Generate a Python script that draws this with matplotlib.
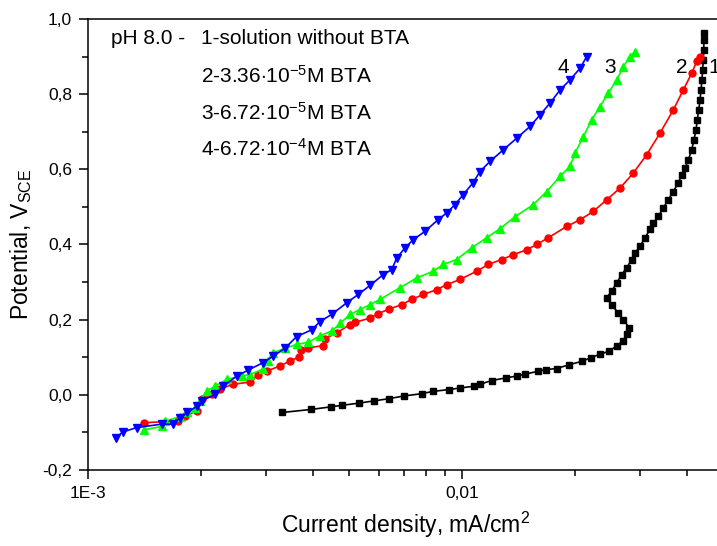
import matplotlib
matplotlib.use("Agg")
import matplotlib.pyplot as plt
from matplotlib.ticker import FixedLocator, FixedFormatter, LogLocator, NullFormatter, MultipleLocator, FuncFormatter

plt.rcParams['font.family'] = 'Liberation Sans'
plt.rcParams['mathtext.fontset'] = 'custom'
plt.rcParams['mathtext.rm'] = 'Liberation Sans'
plt.rcParams['mathtext.it'] = 'Liberation Sans:italic'

# 1 - solution without BTA
x1 = [3.30e-3, 3.94e-3, 4.46e-3, 4.77e-3, 5.31e-3, 5.83e-3, 6.39e-3, 7.00e-3, 7.80e-3, 8.35e-3,
      9.23e-3, 9.86e-3, 10.79e-3, 11.17e-3, 12.0e-3, 13.09e-3, 14.01e-3, 14.77e-3, 16.0e-3, 16.77e-3,
      17.91e-3, 19.32e-3, 20.9e-3, 22.13e-3, 23.39e-3, 24.72e-3, 25.92e-3, 26.9e-3, 27.57e-3, 28.02e-3,
      27.0e-3, 26.13e-3, 25.18e-3, 24.37e-3, 25.13e-3, 25.92e-3, 26.73e-3, 27.57e-3, 28.43e-3, 29.02e-3,
      29.92e-3, 30.85e-3, 31.82e-3, 32.47e-3, 33.48e-3, 34.53e-3, 35.61e-3, 36.73e-3, 37.87e-3, 38.67e-3,
      39.47e-3, 40.28e-3, 41.14e-3, 41.72e-3, 42.24e-3, 42.58e-3, 42.95e-3, 43.30e-3, 43.55e-3, 43.82e-3,
      44.00e-3, 44.18e-3, 44.29e-3, 44.37e-3, 44.46e-3]
y1 = [-0.047, -0.039, -0.032, -0.028, -0.022, -0.016, -0.010, -0.003, 0.003, 0.009,
      0.014, 0.018, 0.023, 0.028, 0.038, 0.045, 0.050, 0.055, 0.063, 0.067,
      0.070, 0.080, 0.089, 0.099, 0.108, 0.116, 0.130, 0.143, 0.161, 0.178,
      0.200, 0.219, 0.238, 0.258, 0.276, 0.298, 0.320, 0.338, 0.360, 0.378,
      0.395, 0.418, 0.440, 0.457, 0.475, 0.497, 0.519, 0.541, 0.564, 0.586,
      0.603, 0.625, 0.652, 0.679, 0.705, 0.732, 0.758, 0.785, 0.811, 0.838,
      0.865, 0.891, 0.918, 0.944, 0.962]

# 2 - 3.36e-5 M BTA
x2 = [1.414e-3, 1.743e-3, 1.817e-3, 1.952e-3, 2.014e-3, 2.142e-3, 2.254e-3, 2.437e-3, 2.712e-3, 2.843e-3,
      3.005e-3, 3.262e-3, 3.468e-3, 3.673e-3, 3.700e-3, 3.882e-3, 4.257e-3, 4.302e-3, 4.624e-3, 5.019e-3,
      5.176e-3, 5.675e-3, 5.962e-3, 6.38e-3, 6.90e-3, 7.34e-3, 7.88e-3, 8.56e-3, 9.10e-3, 9.88e-3,
      10.95e-3, 11.76e-3, 12.77e-3, 13.72e-3, 14.89e-3, 15.84e-3, 17.01e-3, 19.05e-3, 20.69e-3, 22.44e-3,
      24.37e-3, 26.45e-3, 28.71e-3, 31.18e-3, 33.83e-3, 36.73e-3, 39.06e-3, 41.14e-3, 42.42e-3, 43.30e-3]
y2 = [-0.074, -0.070, -0.056, -0.043, -0.012, 0.001, 0.015, 0.028, 0.034, 0.053,
      0.063, 0.077, 0.090, 0.101, 0.118, 0.125, 0.131, 0.149, 0.165, 0.187,
      0.193, 0.204, 0.216, 0.228, 0.240, 0.254, 0.267, 0.280, 0.293, 0.307,
      0.329, 0.347, 0.360, 0.373, 0.386, 0.400, 0.418, 0.448, 0.466, 0.488,
      0.519, 0.550, 0.590, 0.639, 0.696, 0.758, 0.811, 0.856, 0.887, 0.900]

# 3 - 6.72e-5 M BTA
x3 = [1.414e-3, 1.574e-3, 1.607e-3, 1.762e-3, 1.843e-3, 1.932e-3, 1.993e-3, 2.077e-3, 2.186e-3, 2.349e-3,
      2.576e-3, 2.712e-3, 2.931e-3, 3.029e-3, 3.130e-3, 3.363e-3, 3.614e-3, 3.882e-3, 4.172e-3, 4.491e-3,
      4.718e-3, 5.019e-3, 5.337e-3, 5.675e-3, 6.036e-3, 6.826e-3, 7.566e-3, 8.382e-3, 8.913e-3, 9.678e-3,
      10.61e-3, 11.64e-3, 12.64e-3, 13.86e-3, 15.51e-3, 16.85e-3, 18.28e-3, 19.45e-3, 20.05e-3, 21.11e-3,
      22.23e-3, 23.39e-3, 24.61e-3, 25.92e-3, 27.0e-3, 28.13e-3, 29.02e-3]
y3 = [-0.093, -0.084, -0.070, -0.058, -0.047, -0.034, -0.016, 0.010, 0.023, 0.041,
      0.050, 0.054, 0.068, 0.089, 0.112, 0.124, 0.134, 0.140, 0.157, 0.170,
      0.190, 0.214, 0.227, 0.240, 0.254, 0.285, 0.311, 0.329, 0.347, 0.360,
      0.391, 0.418, 0.442, 0.474, 0.506, 0.541, 0.581, 0.608, 0.643, 0.687,
      0.732, 0.767, 0.803, 0.838, 0.873, 0.900, 0.913]

# 4 - 6.72e-4 M BTA
x4 = [1.188e-3, 1.238e-3, 1.350e-3, 1.574e-3, 1.691e-3, 1.762e-3, 1.843e-3, 1.952e-3, 2.014e-3, 2.186e-3,
      2.300e-3, 2.498e-3, 2.683e-3, 2.942e-3, 3.130e-3, 3.363e-3, 3.614e-3, 3.964e-3, 4.172e-3, 4.483e-3,
      4.918e-3, 5.281e-3, 5.675e-3, 6.161e-3, 6.487e-3, 6.690e-3, 7.041e-3, 7.410e-3, 7.963e-3, 8.628e-3,
      9.100e-3, 9.579e-3, 10.08e-3, 10.70e-3, 11.17e-3, 11.88e-3, 12.90e-3, 14.01e-3, 15.20e-3, 16.17e-3,
      17.19e-3, 18.28e-3, 19.45e-3, 20.69e-3, 21.55e-3]
y4 = [-0.114, -0.099, -0.087, -0.078, -0.078, -0.061, -0.047, -0.031, -0.016, 0.001,
      0.023, 0.050, 0.066, 0.086, 0.103, 0.124, 0.155, 0.173, 0.195, 0.214,
      0.245, 0.267, 0.291, 0.320, 0.333, 0.364, 0.391, 0.413, 0.435, 0.466,
      0.484, 0.506, 0.533, 0.564, 0.594, 0.621, 0.652, 0.683, 0.714, 0.745,
      0.776, 0.811, 0.838, 0.869, 0.900]

# curve numbers placed near the top ends
curve_labels = ['4', '3', '2', '1']
label_x = [0.01862, 0.02487, 0.03873, 0.0472]
label_y = [0.87, 0.87, 0.87, 0.87]

legend_head = 'pH 8.0 -'
legend_lines = ['1-solution without BTA',
                r'2-3.36$\cdot$10$^{-5}$M BTA',
                r'3-6.72$\cdot$10$^{-5}$M BTA',
                r'4-6.72$\cdot$10$^{-4}$M BTA']

fig = plt.figure(figsize=(7.17, 5.46), dpi=100)
# axes runs a bit past the right edge (cropped like the original)
ax = fig.add_axes([88 / 717, 76 / 546, 635.4 / 717, 451 / 546])

ax.plot(x1, y1, color='black', marker='s', markersize=4.5, linewidth=1.2)
ax.plot(x2, y2, color='#ff0000', marker='o', markersize=5, linewidth=1.2)
ax.plot(x3, y3, color='#00ff00', marker='^', markersize=6, linewidth=1.2)
ax.plot(x4, y4, color='#0000ff', marker='v', markersize=6, linewidth=1.2)

ax.set_xscale('log')
ax.set_xlim(1e-3, 0.05)
ax.set_ylim(-0.2, 1.0)

ax.xaxis.set_major_locator(FixedLocator([1e-3, 1e-2]))
ax.xaxis.set_major_formatter(FixedFormatter(['1E-3', '0,01']))
ax.xaxis.set_minor_locator(LogLocator(base=10, subs=range(2, 10)))
ax.xaxis.set_minor_formatter(NullFormatter())

ax.yaxis.set_major_locator(MultipleLocator(0.2))
ax.yaxis.set_minor_locator(MultipleLocator(0.1))
ax.yaxis.set_major_formatter(FuncFormatter(lambda v, p: f"{v:.1f}".replace('.', ',').replace('-0,0', '0,0')))

ax.tick_params(which='both', direction='out', top=False, right=False, width=1.1, labelsize=12.5)
ax.tick_params(which='major', length=6.5, pad=5)
ax.tick_params(which='minor', length=4)
for s in ax.spines.values():
    s.set_linewidth(1.1)

ax.set_xlabel('Current density, mA/cm$^2$', fontsize=16.5, labelpad=6)
ax.set_ylabel(r'Potential, V$_{\mathrm{SCE}}$', fontsize=16.5, labelpad=6)

for t, lx, ly in zip(curve_labels, label_x, label_y):
    ax.text(lx, ly, t, fontsize=15, ha='center', va='center')

ax.text(0.0362, 0.9557, legend_head, transform=ax.transAxes, fontsize=15, va='center')
line_y = [0.9557, 0.8736, 0.7916, 0.7118]
for txt, ly in zip(legend_lines, line_y):
    ax.text(0.1774, ly, txt, transform=ax.transAxes, fontsize=15, va='center')

fig.savefig('out.png', dpi=100)
